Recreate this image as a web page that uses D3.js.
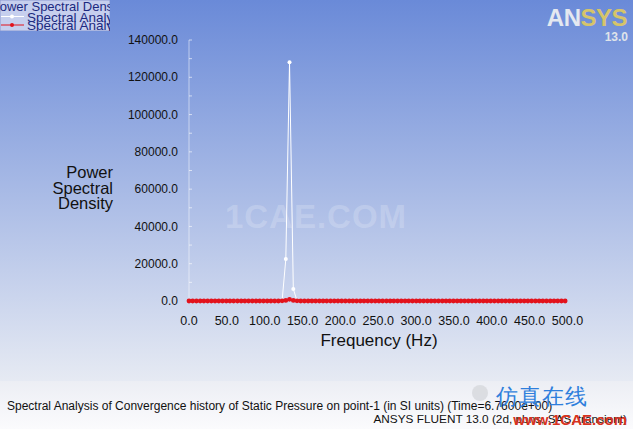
<!DOCTYPE html>
<html><head><meta charset="utf-8">
<script src="https://cdn.jsdelivr.net/npm/d3@7"></script>
<style>html,body{margin:0;padding:0;overflow:hidden;background:#fff}svg{display:block}text{font-family:"Liberation Sans",Arial,sans-serif}</style>
</head><body><svg id="c" width="633" height="429"></svg>
<script>
const frequencies = [0.0,4.9,9.8,14.8,19.7,24.6,29.5,34.4,39.4,44.3,49.2,54.1,59.0,64.0,68.9,73.8,78.7,83.6,88.6,93.5,98.4,103.3,108.2,113.2,118.1,123.0,127.9,132.8,137.8,142.7,147.6,152.5,157.4,162.4,167.3,172.2,177.1,182.0,187.0,191.9,196.8,201.7,206.6,211.6,216.5,221.4,226.3,231.2,236.2,241.1,246.0,250.9,255.8,260.8,265.7,270.6,275.5,280.4,285.4,290.3,295.2,300.1,305.0,310.0,314.9,319.8,324.7,329.6,334.6,339.5,344.4,349.3,354.2,359.2,364.1,369.0,373.9,378.8,383.8,388.7,393.6,398.5,403.4,408.4,413.3,418.2,423.1,428.0,433.0,437.9,442.8,447.7,452.6,457.6,462.5,467.4,472.3,477.2,482.2,487.1,492.0,496.9];
const whiteSeries = [0,0,0,0,0,0,0,0,0,0,0,0,0,0,0,0,0,0,0,0,0,0,0,0,0,200,22500,128000,6400,200,0,0,0,0,0,0,0,0,0,0,0,0,0,0,0,0,0,0,0,0,0,0,0,0,0,0,0,0,0,0,0,0,0,0,0,0,0,0,0,0,0,0,0,0,0,0,0,0,0,0,0,0,0,0,0,0,0,0,0,0,0,0,0,0,0,0,0,0,0,0,0,0];
const redSeries = [0,0,0,0,0,0,0,0,0,0,0,0,0,0,0,0,0,0,0,0,0,0,0,0,0,100,300,900,300,100,0,0,0,0,0,0,0,0,0,0,0,0,0,0,0,0,0,0,0,0,0,0,0,0,0,0,0,0,0,0,0,0,0,0,0,0,0,0,0,0,0,0,0,0,0,0,0,0,0,0,0,0,0,0,0,0,0,0,0,0,0,0,0,0,0,0,0,0,0,0,0,0];
const yTicks = [0,20000,40000,60000,80000,100000,120000,140000];
const xTicks = [0,50,100,150,200,250,300,350,400,450,500];
const legendTitle = "Power Spectral Density";
const seriesNames = ["Spectral Analysis", "Spectral Analysis"];

const svg = d3.select("#c");
const defs = svg.append("defs");
const g1 = defs.append("linearGradient").attr("id","bg").attr("x1",0).attr("y1",0).attr("x2",0).attr("y2",1);
g1.append("stop").attr("offset","0%").attr("stop-color","#6a8ad8");
g1.append("stop").attr("offset","100%").attr("stop-color","#e6eaf3");
const g2 = defs.append("linearGradient").attr("id","ft").attr("x1",0).attr("y1",0).attr("x2",0).attr("y2",1);
g2.append("stop").attr("offset","0%").attr("stop-color","#eceef4");
g2.append("stop").attr("offset","100%").attr("stop-color","#fbfbfd");
svg.append("rect").attr("width",633).attr("height",381).attr("fill","url(#bg)");
svg.append("rect").attr("y",381).attr("width",633).attr("height",48).attr("fill","url(#ft)");

const x = d3.scaleLinear().domain([0,500]).range([189,567.5]);
const y = d3.scaleLinear().domain([0,140000]).range([301,40]);

// watermark
svg.append("text").attr("x",316).attr("y",228).attr("text-anchor","middle")
  .attr("font-size",33).attr("font-weight","bold").attr("fill","#ffffff").attr("fill-opacity",0.2)
  .attr("letter-spacing",1).text("1CAE.COM");

// y axis line & ticks
svg.append("line").attr("x1",x(0)).attr("x2",x(0)).attr("y1",y(140000)).attr("y2",y(0))
  .attr("stroke","#ffffff").attr("stroke-opacity",0.5);
const minor = d3.range(0,140001,10000);
svg.append("g").selectAll("line").data(minor).join("line")
  .attr("x1",x(0)).attr("x2",x(0)+3).attr("y1",d=>y(d)).attr("y2",d=>y(d))
  .attr("stroke","#ffffff").attr("stroke-opacity",0.6);

svg.append("g").selectAll("text").data(yTicks).join("text")
  .attr("x",178).attr("y",d=>y(d)).attr("dy","0.35em").attr("text-anchor","end")
  .attr("font-size",12).attr("fill","#111").text(d=>d3.format(".1f")(d));
svg.append("g").selectAll("text").data(xTicks).join("text")
  .attr("x",d=>x(d)).attr("y",325).attr("text-anchor","middle")
  .attr("font-size",12.5).attr("fill","#111").text(d=>d3.format(".1f")(d));

svg.append("text").attr("x",379).attr("y",346).attr("text-anchor","middle")
  .attr("font-size",17).attr("fill","#111").text("Frequency (Hz)");
const yl = svg.append("text").attr("text-anchor","end").attr("font-size",16.5).attr("fill","#111");
["Power","Spectral","Density"].forEach((t,i)=>yl.append("tspan").attr("x",113).attr("y",178+i*15.5).text(t));

// series
const pts = (vals)=>frequencies.map((f,i)=>[f,vals[i]]);
const line = d3.line().x(d=>x(d[0])).y(d=>y(d[1]));
svg.append("path").datum(pts(whiteSeries)).attr("d",line).attr("fill","none").attr("stroke","#ffffff").attr("stroke-width",1);
svg.append("g").selectAll("circle").data(pts(whiteSeries)).join("circle")
  .attr("cx",d=>x(d[0])).attr("cy",d=>y(d[1])).attr("r",2).attr("fill","#ffffff");
svg.append("path").datum(pts(redSeries)).attr("d",line).attr("fill","none").attr("stroke","#e01a22").attr("stroke-width",1.2);
svg.append("g").selectAll("circle").data(pts(redSeries)).join("circle")
  .attr("cx",d=>x(d[0])).attr("cy",d=>y(d[1])).attr("r",2.4).attr("fill","#e2121c");

// legend
defs.append("clipPath").attr("id","lc").append("rect").attr("x",0).attr("y",0).attr("width",110).attr("height",31);
const lg = svg.append("g").attr("clip-path","url(#lc)");
lg.append("rect").attr("x",0).attr("y",0).attr("width",110).attr("height",31).attr("fill","#c6cfee").attr("stroke","#8c9ad0");
lg.append("text").attr("x",-9).attr("y",11).attr("font-size",13).attr("fill","#1c2a80").text(legendTitle);
const colors = ["#ffffff","#e2121c"];
seriesNames.forEach((n,i)=>{
  const yy = 16.5 + i*8.5;
  lg.append("line").attr("x1",1).attr("x2",24).attr("y1",yy).attr("y2",yy).attr("stroke",colors[i]);
  lg.append("circle").attr("cx",12).attr("cy",yy).attr("r",2).attr("fill",colors[i]);
  lg.append("text").attr("x",27).attr("y",yy+5).attr("font-size",13.5).attr("fill","#1c2a80").text(n);
});

// ANSYS logo
const logo = svg.append("text").attr("x",627).attr("y",26).attr("text-anchor","end")
  .attr("font-size",24).attr("font-weight","bold").attr("font-family","DejaVu Sans Condensed").attr("letter-spacing",-0.5);
logo.append("tspan").attr("fill","#e4e8f0").text("AN");
logo.append("tspan").attr("fill","#d6c46a").text("SYS");
svg.append("text").attr("x",628).attr("y",41).attr("text-anchor","end").attr("font-size",12)
  .attr("font-weight","bold").attr("font-family","DejaVu Sans").attr("fill","#dfe3ea").text("13.0");

// footer
svg.append("text").attr("x",7).attr("y",410).attr("font-size",12).attr("fill","#111")
  .text("Spectral Analysis of Convergence history of Static Pressure on point-1 (in SI units)  (Time=6.7600e+00)");
svg.append("text").attr("x",627).attr("y",423).attr("text-anchor","end").attr("font-size",11.8).attr("fill","#111")
  .text("ANSYS FLUENT 13.0 (2d, pbns, SAS, transient)");
svg.append("circle").attr("cx",480).attr("cy",393).attr("r",8).attr("fill","#d8dadf").attr("fill-opacity",0.9);
svg.append("text").attr("x",496).attr("y",404).attr("font-size",22).attr("fill","#2f7fdc")
  .attr("font-family","Noto Sans CJK SC").attr("letter-spacing",1).text("仿真在线");
svg.append("text").attr("x",627).attr("y",425).attr("text-anchor","end").attr("font-size",15)
  .attr("font-weight","bold").attr("fill","#d8321e").text("www.1CAE.com");
</script></body></html>
